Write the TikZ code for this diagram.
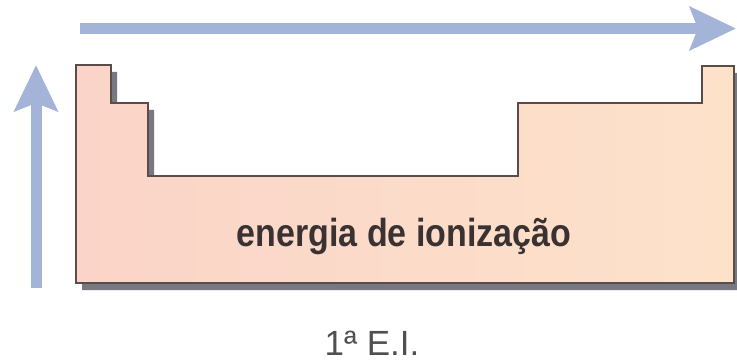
\documentclass[tikz,border=0pt]{standalone}
\usepackage{fontspec}
\setmainfont{Liberation Sans}
\usetikzlibrary{arrows.meta}
\definecolor{arrowblue}{RGB}{164,180,216}
\definecolor{tableleft}{RGB}{250,212,200}
\definecolor{tableright}{RGB}{253,226,202}
\definecolor{tableline}{RGB}{90,76,74}
\definecolor{tableshadow}{RGB}{96,96,108}
\definecolor{labeldark}{RGB}{58,50,50}
\definecolor{labelgray}{RGB}{80,80,80}
\begin{document}
\begin{tikzpicture}[x=1pt,y=-1pt,
  trend/.style={arrowblue,line width=11pt,-{Stealth[length=46pt,width=43pt,inset=8pt]}}]
\useasboundingbox (0,0) rectangle (737,361);
% arrows
\coordinate (hstart) at (80,28.5);
\coordinate (hend) at (736,28.5);
\coordinate (vstart) at (36,288);
\coordinate (vend) at (36,65);
\draw[trend] (hstart) -- (hend);
\draw[trend] (vstart) -- (vend);
% table outline
\fill[tableshadow,opacity=0.85,shift={(6,7)}] (76,283) -- (76,65) -- (111,65) -- (111,103) -- (148,103) -- (148,176) -- (518,176) -- (518,103) -- (702,103) -- (702,66) -- (734,66) -- (734,283) -- cycle;
\draw[tableline,line width=1.6pt,left color=tableleft,right color=tableright] (76,283) -- (76,65) -- (111,65) -- (111,103) -- (148,103) -- (148,176) -- (518,176) -- (518,103) -- (702,103) -- (702,66) -- (734,66) -- (734,283) -- cycle;
% labels
\draw (404,246) node[anchor=base,yscale=1.15,transform shape,text=labeldark,font=\bfseries\fontsize{34}{40}\selectfont](energy) {energia de ionização};
\draw (372,355) node[anchor=base,text=labelgray,font=\fontsize{35}{40}\selectfont](first) {1ª E.I.};
\end{tikzpicture}
\end{document}
